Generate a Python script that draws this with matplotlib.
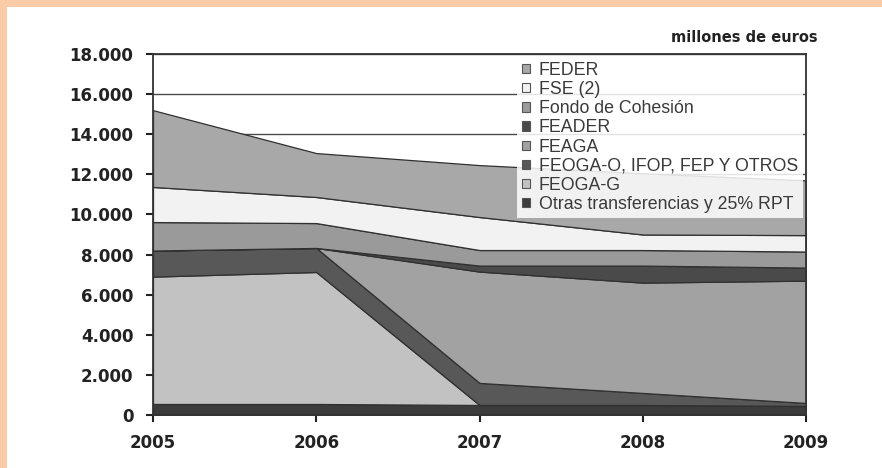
import matplotlib.pyplot as plt
from matplotlib.patches import Patch

# millones de euros
years = [2005, 2006, 2007, 2008, 2009]

otras = [550, 550, 500, 500, 450]
feoga_g = [6350, 6580, 0, 0, 0]
feoga_o = [1300, 1200, 1100, 600, 150]
feaga = [0, 0, 5550, 5500, 6100]
feader = [0, 0, 300, 850, 650]
fondo_cohesion = [1420, 1240, 775, 775, 800]
fse = [1750, 1300, 1645, 775, 820]
feder = [3830, 2190, 2590, 3050, 2730]

# stacked bottom -> top
series = [otras, feoga_g, feoga_o, feaga, feader, fondo_cohesion, fse, feder]
colors = ['#3c3c3c', '#c2c2c2', '#585858', '#a2a2a2', '#4a4a4a', '#9a9a9a', '#f2f2f2', '#a8a8a8']

# legend order (top -> bottom)
legend_names = ['FEDER', 'FSE (2)', 'Fondo de Cohesión', 'FEADER', 'FEAGA',
                'FEOGA-O, IFOP, FEP Y OTROS', 'FEOGA-G', 'Otras transferencias y 25% RPT']

yticks = [0, 2000, 4000, 6000, 8000, 10000, 12000, 14000, 16000, 18000]
ytick_labels = ['0', '2.000', '4.000', '6.000', '8.000', '10.000', '12.000',
                '14.000', '16.000', '18.000']

fig = plt.figure(figsize=(8.82, 4.68), dpi=100)
fig.patch.set_facecolor('#f9cba6')
# white inner panel, peach strip only at top and left
fig.add_artist(plt.Rectangle((7 / 882, 0), 1, 1 - 7 / 468, transform=fig.transFigure,
                             facecolor='white', edgecolor='none', zorder=0))

ax = fig.add_axes([153 / 882, 1 - 415 / 468, (806 - 153) / 882, (415 - 54) / 468])
ax.set_facecolor('white')

ax.stackplot(years, *series, colors=colors, edgecolor='#303030', linewidth=0.9, zorder=2)

ax.set_xlim(2005, 2009)
ax.set_ylim(0, 18000)
ax.set_xticks(years)
ax.set_xticklabels([str(y) for y in years])
ax.set_yticks(yticks)
ax.set_yticklabels(ytick_labels)
ax.yaxis.grid(True, color='#4a4a4a', linewidth=1.0, zorder=1)
ax.set_axisbelow(True)

for lab in ax.get_xticklabels() + ax.get_yticklabels():
    lab.set_fontweight('bold')
    lab.set_fontsize(12)
    lab.set_color('#222222')
    lab.set_family('DejaVu Sans')
ax.tick_params(axis='both', direction='out', length=5, width=1.5, color='#222222')
ax.tick_params(axis='x', pad=9)
ax.tick_params(axis='y', pad=9)

for s in ax.spines.values():
    s.set_color('#333333')
    s.set_linewidth(1.3)
    s.set_zorder(3)

handles = [Patch(facecolor=colors[i], edgecolor='#555555', linewidth=0.8)
           for i in range(len(series) - 1, -1, -1)]
leg = ax.legend(handles, legend_names, loc='upper right', bbox_to_anchor=(1.0, 1.0),
                frameon=True, framealpha=0.85, facecolor='white', edgecolor='none',
                fancybox=False, handlelength=0.42, handleheight=0.42, handletextpad=0.5,
                labelspacing=0.12, borderpad=0.3, borderaxespad=0.15,
                prop={'family': 'Liberation Sans', 'size': 12.8})
leg.set_zorder(4)
for t in leg.get_texts():
    t.set_color('#3a3a3a')

fig.text(818 / 882, 1 - 37 / 468, 'millones de euros', ha='right', va='center',
         fontsize=10.5, fontweight='bold', color='#222222')

fig.savefig('out.png', dpi=100, facecolor=fig.get_facecolor())
